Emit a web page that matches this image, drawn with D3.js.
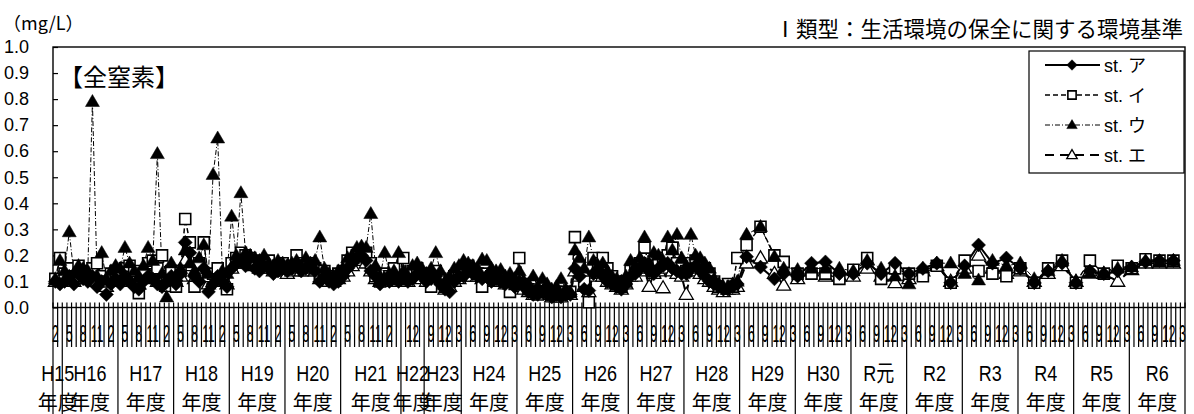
<!DOCTYPE html>
<html><head><meta charset="utf-8">
<script src="https://cdn.jsdelivr.net/npm/d3@7"></script>
<style>body{margin:0;background:#fff}svg{display:block}</style>
</head><body><svg id="c" width="1194" height="414"></svg>
<script>
const N = null;
// fiscal years (outer category level)
const yearLabels = ["H15","H16","H17","H18","H19","H20","H21","H22","H23","H24","H25","H26","H27","H28","H29","H30","R元","R2","R3","R4","R5","R6"];
const M12 = [4,5,6,7,8,9,10,11,12,1,2,3];
const yearMonths = [[2,3],M12,M12,M12,M12,M12,[4,5,6,7,8,9,10,11,12,1,2,3,3],[10,11,12,1,2],[8,9,10,11,12,1,2,3],
  M12,M12,M12,M12,M12,M12,M12,M12,M12,M12,M12,M12,M12];
// month labels shown on the inner category level, per year
const A = [5,8,11,2], B = [6,9,12,3];
const tickMonths = [[2],A,A,A,A,A,A,[12],[9,12,3],B,B,B,B,B,B,B,B,B,B,B,B,B];
const yTicks = [0,0.1,0.2,0.3,0.4,0.5,0.6,0.7,0.8,0.9,1.0];

// st. ア
const stA = [
 0.10,0.09,
 0.10,0.12,0.09,0.13,0.11,0.10,0.12,0.08,0.10,0.05,0.09,0.11,
 0.09,0.12,0.10,0.08,0.07,0.10,0.12,0.11,0.09,0.08,0.10,0.12,
 0.09,0.13,0.25,0.21,0.12,0.10,0.15,0.06,0.09,0.12,0.10,0.08,
 0.15,0.17,0.18,0.16,0.19,0.15,0.14,0.16,0.15,0.13,0.14,0.15,
 0.14,0.15,0.16,0.14,0.15,0.16,0.14,0.10,0.12,0.10,0.09,0.10,
 0.12,0.15,0.17,0.19,0.20,0.18,0.14,0.12,0.09,0.11,0.10,0.12,0.10,
 0.12,0.10,0.11,0.13,0.12,
 0.10,0.11,0.12,0.09,0.07,0.06,0.10,0.12,
 0.12,0.14,0.13,0.12,0.11,0.12,0.10,0.11,0.10,0.09,0.10,0.08,
 0.10,0.08,0.06,0.05,0.05,0.06,0.05,0.04,0.05,0.04,0.05,0.05,
 0.15,0.12,0.07,0.065,0.13,0.14,0.12,0.10,0.09,0.08,0.07,0.09,
 0.12,0.13,0.15,0.17,0.14,0.13,0.15,0.16,0.17,0.15,0.14,0.13,
 0.13,0.15,0.16,0.14,0.12,0.10,0.09,0.08,0.07,0.07,0.08,0.09,
 N,0.195,N,N,0.155,N,N,0.11,N,0.13,N,N,
 0.12,N,N,0.17,N,N,0.175,N,N,0.13,N,N,
 0.13,N,N,0.17,N,N,0.13,N,N,0.17,N,N,
 0.13,N,N,0.15,N,N,0.17,N,N,0.095,N,N,
 0.16,N,N,0.24,N,N,0.17,N,N,0.19,N,N,
 0.15,N,N,0.095,N,N,0.14,N,N,0.17,N,N,
 0.095,N,N,0.14,N,N,0.13,N,N,0.14,N,N,
 0.155,N,N,0.175,N,N,0.18,N,N,0.18,N,N];
// st. イ
const stI = [
 0.11,0.19,
 0.13,0.15,0.12,0.16,0.14,0.13,0.15,0.17,0.12,0.10,0.13,0.14,
 0.12,0.15,0.16,0.14,0.055,0.13,0.17,0.18,0.15,0.20,0.12,0.14,
 0.08,0.14,0.34,0.25,0.08,0.17,0.25,0.12,0.13,0.15,0.11,0.07,
 0.17,0.19,0.21,0.20,0.19,0.18,0.17,0.16,0.18,0.15,0.16,0.17,
 0.15,0.16,0.20,0.17,0.16,0.17,0.15,0.13,0.14,0.12,0.11,0.13,
 0.14,0.18,0.21,0.20,0.22,0.21,0.17,0.12,0.10,0.13,0.12,0.15,0.11,
 0.19,0.12,0.14,0.15,0.13,
 0.12,0.08,0.14,0.11,0.08,0.10,0.12,0.14,
 0.15,0.16,0.14,0.13,0.08,0.13,0.12,0.13,0.11,0.10,0.06,0.09,
 0.19,0.09,0.07,0.06,0.05,0.06,0.06,0.05,0.06,0.05,0.06,0.06,
 0.27,0.16,0.10,0.02,0.19,0.17,0.19,0.15,0.12,0.10,0.08,0.10,
 0.14,0.15,0.17,0.23,0.16,0.15,0.18,0.19,0.20,0.23,0.17,0.15,
 0.14,0.17,0.18,0.16,0.15,0.13,0.10,0.08,0.08,0.09,0.08,0.19,
 N,0.24,N,N,0.31,N,N,0.20,N,0.175,N,N,
 0.13,N,N,0.13,N,N,0.13,N,N,0.11,N,N,
 0.145,N,N,0.19,N,N,0.11,N,N,0.15,N,N,
 0.13,N,N,0.12,N,N,0.16,N,N,0.095,N,N,
 0.18,N,N,0.14,N,N,0.13,N,N,0.12,N,N,
 0.15,N,N,0.095,N,N,0.15,N,N,0.18,N,N,
 0.095,N,N,0.18,N,N,0.13,N,N,0.16,N,N,
 0.15,N,N,0.185,N,N,0.18,N,N,0.18,N,N];
// st. ウ
const stU = [
 0.11,0.18,
 0.14,0.29,0.13,0.16,0.15,0.14,0.79,0.12,0.21,0.11,0.14,0.16,
 0.15,0.23,0.17,0.14,0.12,0.16,0.23,0.18,0.59,0.13,0.04,0.17,
 0.12,0.15,0.22,0.17,0.14,0.19,0.24,0.13,0.51,0.65,0.14,0.13,
 0.35,0.20,0.44,0.21,0.20,0.19,0.18,0.20,0.17,0.16,0.18,0.17,
 0.16,0.17,0.18,0.16,0.19,0.17,0.18,0.27,0.15,0.13,0.12,0.14,
 0.15,0.19,0.20,0.23,0.235,0.23,0.36,0.16,0.12,0.21,0.13,0.14,0.21,
 0.14,0.12,0.16,0.17,0.15,
 0.13,0.15,0.21,0.14,0.10,0.12,0.15,0.16,
 0.18,0.17,0.16,0.15,0.185,0.18,0.15,0.14,0.145,0.12,0.13,0.11,
 0.14,0.10,0.09,0.12,0.08,0.11,0.09,0.07,0.08,0.11,0.07,0.06,
 0.22,0.19,0.15,0.27,0.18,0.16,0.17,0.14,0.12,0.11,0.10,0.12,
 0.18,0.16,0.19,0.27,0.17,0.21,0.20,0.18,0.27,0.22,0.28,0.19,
 0.16,0.28,0.20,0.19,0.17,0.15,0.11,0.09,0.08,0.08,0.09,0.10,
 N,0.28,N,N,0.31,N,N,0.195,N,0.15,N,N,
 0.145,N,N,0.15,N,N,0.15,N,N,0.15,N,N,
 0.14,N,N,0.18,N,N,0.15,N,N,0.12,N,N,
 0.09,N,N,0.15,N,N,0.17,N,N,0.17,N,N,
 0.13,N,N,0.105,N,N,0.18,N,N,0.16,N,N,
 0.17,N,N,0.11,N,N,0.14,N,N,0.18,N,N,
 0.10,N,N,0.13,N,N,0.13,N,N,0.15,N,N,
 0.155,N,N,0.18,N,N,0.175,N,N,0.18,N,N];
// st. エ
const stE = [
 0.10,0.12,
 0.10,0.12,0.10,0.13,0.12,0.11,0.12,0.10,0.11,0.08,0.10,0.12,
 0.10,0.12,0.11,0.10,0.09,0.11,0.13,0.12,0.10,0.10,0.08,0.12,
 0.10,0.12,0.18,0.16,0.11,0.12,0.15,0.09,0.10,0.12,0.11,0.09,
 0.15,0.17,0.18,0.17,0.17,0.16,0.15,0.15,0.15,0.14,0.14,0.15,
 0.13,0.14,0.15,0.14,0.14,0.15,0.14,0.11,0.12,0.10,0.10,0.11,
 0.12,0.14,0.16,0.18,0.19,0.17,0.14,0.11,0.10,0.11,0.10,0.12,0.10,
 0.11,0.10,0.12,0.12,0.11,
 0.10,0.10,0.11,0.09,0.07,0.08,0.10,0.11,
 0.12,0.13,0.12,0.12,0.11,0.11,0.10,0.10,0.10,0.09,0.09,0.08,
 0.09,0.07,0.06,0.05,0.05,0.06,0.05,0.04,0.04,0.04,0.05,0.05,
 0.14,0.12,0.08,0.06,0.12,0.13,0.12,0.10,0.09,0.08,0.07,0.09,
 0.12,0.12,0.14,0.15,0.08,0.13,0.14,0.075,0.15,0.14,0.13,0.12,
 0.05,0.14,0.15,0.13,0.11,0.10,0.08,0.07,0.06,0.07,0.07,0.08,
 N,0.17,N,N,0.19,N,N,0.13,N,0.085,N,N,
 0.11,N,N,0.14,N,N,0.12,N,N,0.12,N,N,
 0.12,N,N,0.15,N,N,0.12,N,N,0.095,N,N,
 0.11,N,N,0.14,N,N,0.16,N,N,0.10,N,N,
 0.15,N,N,0.20,N,N,0.15,N,N,0.13,N,N,
 0.14,N,N,0.10,N,N,0.13,N,N,0.16,N,N,
 0.10,N,N,0.14,N,N,0.13,N,N,0.10,N,N,
 0.145,N,N,0.17,N,N,0.17,N,N,0.17,N,N];

const seriesNames = ["st. ア","st. イ","st. ウ","st. エ"];
const seriesValues = [stA, stI, stU, stE];

// ---- build categories ----
const categories = [];
yearMonths.forEach((ms, yi) => {
  const seen = new Set();
  ms.forEach((m, k) => {
    let label = "";
    if (tickMonths[yi].includes(m) && !seen.has(m)) { label = String(m); seen.add(m); }
    categories.push({key: yi + "-" + k, year: yi, month: m, label});
  });
});
const labelByKey = new Map(categories.map(c => [c.key, c.label]));

const W = 1194, H = 414;
const plotL = 53, plotR = 1185, plotT = 47, plotB = 307.5;
const svg = d3.select("#c");
const FONT = "'Liberation Sans', Arial, 'Noto Sans CJK JP', sans-serif";
const CJK = "'Noto Sans CJK JP', sans-serif";

const x = d3.scaleBand().domain(categories.map(c => c.key)).range([plotL, plotR]).padding(0);
const bw = x.bandwidth();
const y = d3.scaleLinear().domain([0, 1]).range([plotB, plotT]);

// titles
svg.append("text").attr("x", 3).attr("y", 30).attr("font-family", CJK).attr("font-size", 18).text("（mg/L）");
svg.append("text").attr("x", 1183).attr("y", 37).attr("text-anchor", "end").attr("font-family", CJK)
  .attr("font-size", 21.5).text("Ⅰ類型：生活環境の保全に関する環境基準");

// y axis
svg.append("g").attr("transform", `translate(${plotL},0)`)
  .call(d3.axisLeft(y).tickValues(yTicks).tickSize(-5).tickPadding(24).tickFormat(d3.format(".1f")))
  .call(g => g.select(".domain").remove())
  .call(g => g.selectAll("line").attr("stroke", "#000").attr("stroke-width", 1.2))
  .call(g => g.selectAll("text").attr("font-family", FONT).attr("font-size", 18).attr("fill", "#000"));

// x axis inner labels (condensed digits)
const xg = svg.append("g").attr("transform", `translate(0,${plotB})`).style("opacity", 0.999)
  .call(d3.axisBottom(x).tickSize(0).tickPadding(0).tickFormat(k => labelByKey.get(k)));
xg.select(".domain").remove();
xg.selectAll("text").attr("y", 34.5).attr("dy", 0).attr("font-family", FONT).attr("font-size", 24)
  .attr("fill", "#000").attr("transform", "scale(0.5,1)");

// category divider lines and year dividers
const yearStart = new Set();
let prev = -1;
categories.forEach((c, i) => { if (c.year !== prev) { yearStart.add(i); prev = c.year; } });
const bounds = categories.map((c, i) => ({xx: x(c.key), yr: yearStart.has(i)}));
bounds.push({xx: plotR, yr: true});
svg.append("g").selectAll("line").data(bounds).join("line")
  .attr("x1", d => d.xx).attr("x2", d => d.xx)
  .attr("y1", plotB - 5).attr("y2", d => d.yr ? H : 347)
  .attr("stroke", "#000").attr("stroke-width", 1.2);

// year labels
const yearGroups = d3.groups(categories, c => c.year);
const yl = svg.append("g").style("opacity", 0.999).selectAll("g").data(yearGroups).join("g")
  .attr("transform", ([yi, cs]) => `translate(${(x(cs[0].key) + x(cs[cs.length - 1].key) + bw) / 2},0)`);
yl.append("text").attr("text-anchor", "middle").attr("font-family", FONT).attr("font-size", 18)
  .attr("transform", "translate(0,381) scale(1,1.25)").text(([yi]) => yearLabels[yi]);
yl.append("text").attr("text-anchor", "middle").attr("font-family", CJK).attr("font-size", 20)
  .attr("y", 409.5).text("年度");

// frame
svg.append("rect").attr("x", plotL).attr("y", plotT).attr("width", plotR - plotL).attr("height", plotB - plotT)
  .attr("fill", "none").attr("stroke", "#000").attr("stroke-width", 1.4);

svg.append("text").attr("x", 59).attr("y", 86).attr("font-family", CJK).attr("font-size", 24).text("【全窒素】");

// series
const styles = [
  {w: 2, dash: null, marker: "diamond"},
  {w: 1.5, dash: "5,3", marker: "square"},
  {w: 1, dash: "5,2,1,2", marker: "tri"},
  {w: 2, dash: "9,6", marker: "opentri"}
];
function markerPath(type, s) {
  if (type === "diamond") { const r = 7 * s; return `M0,${-r}L${r},0L0,${r}L${-r},0Z`; }
  if (type === "square") { const r = 5.5 * s; return `M${-r},${-r}H${r}V${r}H${-r}Z`; }
  const w = 7 * s, h = 12 * s;
  return `M0,${-h * 0.6}L${w},${h * 0.4}L${-w},${h * 0.4}Z`;
}
function markerAttrs(sel, type) {
  if (type === "diamond" || type === "tri") sel.attr("fill", "#000").attr("stroke", "#000").attr("stroke-width", 0.5);
  else sel.attr("fill", "#fff").attr("stroke", "#000").attr("stroke-width", type === "square" ? 1.6 : 1.3);
}
const pts = seriesValues.map(vals => categories.map((c, i) => ({cx: x(c.key) + bw / 2, v: vals[i]})).filter(p => p.v != null));
const line = d3.line().x(p => p.cx).y(p => y(p.v));
const gData = svg.append("g");
pts.forEach((p, si) => {
  gData.append("path").attr("d", line(p)).attr("fill", "none").attr("stroke", "#000")
    .attr("stroke-width", styles[si].w).attr("stroke-dasharray", styles[si].dash);
});
// open markers beneath filled ones
[3, 1, 0, 2].forEach(si => {
  gData.append("g").selectAll("path").data(pts[si]).join("path")
    .attr("transform", d => `translate(${d.cx},${y(d.v)})`)
    .attr("d", markerPath(styles[si].marker, 1))
    .call(markerAttrs, styles[si].marker);
});

// legend
const lg = svg.append("g");
lg.append("rect").attr("x", 1029).attr("y", 51).attr("width", 155).attr("height", 122)
  .attr("fill", "#fff").attr("stroke", "#000").attr("stroke-width", 1.2);
seriesNames.forEach((name, si) => {
  const ly = 65 + si * 30;
  lg.append("line").attr("x1", 1045).attr("x2", 1100).attr("y1", ly).attr("y2", ly)
    .attr("stroke", "#000").attr("stroke-width", styles[si].w).attr("stroke-dasharray", styles[si].dash);
  lg.append("path").attr("transform", `translate(1072,${ly})`).attr("d", markerPath(styles[si].marker, 0.75))
    .call(markerAttrs, styles[si].marker);
  lg.append("text").attr("x", 1104).attr("y", ly + 6.5).attr("font-family", FONT).attr("font-size", 18).text(name);
});
</script></body></html>
